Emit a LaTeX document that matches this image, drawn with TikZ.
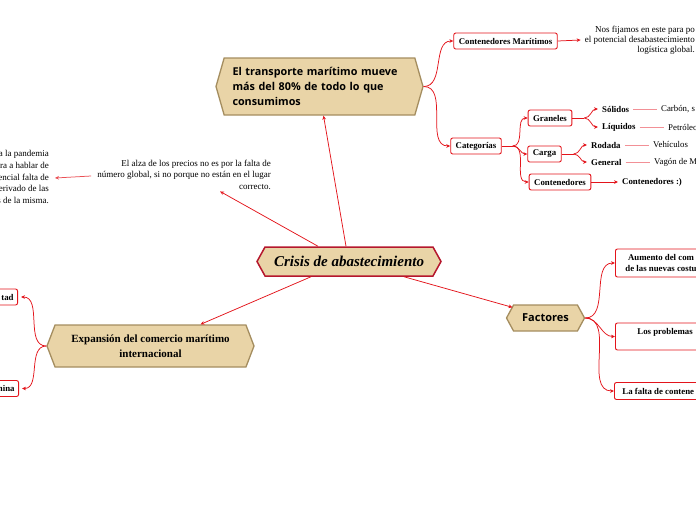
\documentclass[tikz,border=0pt]{standalone}
\usepackage{fontspec}
\setmainfont{Liberation Serif}
\newfontfamily\headsans{Open Sans}
\usetikzlibrary{shapes}
\usetikzlibrary{positioning}
\usetikzlibrary{arrows.meta}
\definecolor{tan}{HTML}{E9D4A7}
\definecolor{crimson}{HTML}{B5172D}
\definecolor{bronze}{HTML}{A48D5F}
\definecolor{linered}{HTML}{E3141B}
\definecolor{pinkred}{HTML}{F29096}
\tikzset{
    Hexa/.style = {signal, signal to=west and east, draw=bronze, fill=tan, line width=1.3pt, inner sep=0pt}
}
\tikzset{
    Box/.style = {draw=linered, rounded corners=2pt, fill=white, line width=0.9pt, font=\bfseries\fontsize{8.8}{10.5}\selectfont, inner xsep=5pt, inner ysep=0pt, minimum height=16pt}
}
\tikzset{
    Edge/.style = {draw=linered, line width=0.75pt, -{Stealth[length=4pt,width=3.6pt]}}
}

\begin{document}
\begin{tikzpicture}[
    x=1pt, y=-1pt,
    font=\fontsize{9}{10.5}\selectfont
]
\tikzset{
    leaf/.style = {font=\bfseries\fontsize{8.8}{10}\selectfont, inner xsep=4pt, inner ysep=1pt},
    note/.style = {font=\fontsize{8.8}{10}\selectfont, inner xsep=4pt, inner ysep=1pt},
    stem/.style = {draw=linered, line width=0.75pt},
    tie/.style = {draw=pinkred, line width=0.6pt},
}
\useasboundingbox (0,0) rectangle (696,520);
\clip (0,0) rectangle (696,520);

% main nodes
\node[Hexa, draw=crimson, line width=1.5pt, minimum width=184pt, minimum height=29pt, signal pointer angle=122, font=\bfseries\itshape\fontsize{15}{17}\selectfont] at (349,261.5) (crisis) {Crisis de abastecimiento};
\node[Hexa, minimum width=207pt, minimum height=57pt, signal pointer angle=148, text width=174pt, align=left, font=\headsans\bfseries\fontsize{10.8}{15}\selectfont] at (319.5,86.5) (transporte) {El transporte marítimo mueve\\más del 80\% de todo lo que\\consumimos};
\node[Hexa, minimum width=207pt, minimum height=42pt, signal pointer angle=138, align=center, font=\bfseries\fontsize{11}{15}\selectfont] at (150.5,346) (expansion) {Expansión del comercio marítimo\\internacional};
\node[Hexa, minimum width=78pt, minimum height=26pt, signal pointer angle=123, font=\headsans\bfseries\fontsize{11}{12}\selectfont] at (545.5,318) (factores) {Factores};

% notes
\node[anchor=east, align=right, inner sep=0pt, font=\fontsize{9}{11.5}\selectfont] at (271,174.5) (alza) {El alza de los precios no es por la falta de\\número global, si no porque no están en el lugar\\correcto.};
\node[anchor=east, align=right, inner sep=0pt, font=\fontsize{9}{11.6}\selectfont] at (49,177) (pandemia) {a la pandemia\\ra a hablar de\\encial falta de\\erivado de las\\s de la misma.};

\path ([xshift=-31pt]crisis.north) edge [Edge] ([xshift=36pt,yshift=-2pt]alza.south);
\path ([xshift=-3pt]crisis.north) edge [Edge] ([xshift=4pt]transporte.south);
\path ([xshift=-38pt]crisis.south) edge [Edge] ([xshift=50pt]expansion.north);
\path ([xshift=55pt]crisis.south) edge [Edge] ([xshift=-33pt,yshift=-3pt]factores.north);
\path ([xshift=-6pt,yshift=-1.5pt]alza.west) edge [Edge, draw=linered!75] ([xshift=6pt,yshift=-1pt]pandemia.east);

% transporte
\node[Box] at (505.5,41) (contmar) {Contenedores Marítimos};
\node[Box] at (476,146) (categorias) {Categorías};
\node[anchor=east, align=right, inner sep=0pt, font=\fontsize{9}{10.2}\selectfont] at (695,40) (fijamos) {Nos fijamos en este para po\\el potencial desabastecimiento\\logística global.};
\path (transporte.east) edge [Edge, out=0, in=180] (contmar.west);
\path (transporte.east) edge [Edge, out=0, in=180] (categorias.west);
\path (contmar.east) edge [Edge] ([xshift=-4pt]fijamos.west);

% categorias
\node[Box] at (550,118) (graneles) {Graneles};
\node[Box] at (544.5,154) (carga) {Carga};
\node[Box] at (560,182) (contenedores) {Contenedores};
\coordinate[right=11pt of categorias.east] (catfork);
\path (categorias.east) edge [stem] (catfork);
\path (catfork) edge [Edge, out=0, in=180] (graneles.west);
\path (catfork) edge [Edge, out=0, in=180] (carga.west);
\path (catfork) edge [Edge, out=0, in=180] (contenedores.west);

\node[leaf, anchor=west] at (598,109) (solidos) {Sólidos};
\node[leaf, anchor=west] at (598,127) (liquidos) {Líquidos};
\node[note, anchor=west] at (657,109) (carbon) {Carbón, s};
\node[note, anchor=west] at (664,127) (petroleo) {Petróleo};
\coordinate[right=12pt of graneles.east] (granfork);
\path (graneles.east) edge [stem] (granfork);
\path (granfork) edge [Edge, out=0, in=180] (solidos.west);
\path (granfork) edge [Edge, out=0, in=180] (liquidos.west);
\path (solidos.east) edge [tie] (carbon.west);
\path (liquidos.east) edge [tie] (petroleo.west);

\node[leaf, anchor=west] at (587,145) (rodada) {Rodada};
\node[leaf, anchor=west] at (587,162) (general) {General};
\node[note, anchor=west] at (649,145) (vehiculos) {Vehículos};
\node[note, anchor=west] at (650,162) (vagon) {Vagón de M};
\coordinate[right=12pt of carga.east] (cargafork);
\path (carga.east) edge [stem] (cargafork);
\path (cargafork) edge [Edge, out=0, in=180] (rodada.west);
\path (cargafork) edge [Edge, out=0, in=180] (general.west);
\path (rodada.east) edge [tie] (vehiculos.west);
\path (general.east) edge [tie] (vagon.west);

\node[leaf, anchor=west] at (618,182) (contsmile) {Contenedores :)};
\path (contenedores.east) edge [Edge] (contsmile.west);

% factores
\node[Box, anchor=west, align=center, inner xsep=10pt, minimum height=28pt] at (615,263) (aumento) {Aumento del com\\de las nuevas costu};
\node[Box, anchor=west, align=center, inner xsep=22pt, minimum height=27pt] at (615,336.5) (problemas) {Los problemas\\~};
\node[Box, anchor=west, inner xsep=8pt, minimum height=17pt] at (614,391) (falta) {La falta de contene};
\path (factores.east) edge [Edge, out=0, in=180] (aumento.west);
\path (factores.east) edge [Edge, out=0, in=180] (problemas.west);
\path (factores.east) edge [Edge, out=0, in=180] (falta.west);

% expansion
\node[Box, anchor=east, text width=30pt, align=right, inner xsep=4pt] at (18,297) (libertad) {tad};
\node[Box, anchor=east, text width=30pt, align=right, inner xsep=4pt] at (19,388.5) (china) {China};
\path (expansion.west) edge [Edge, out=180, in=0] ([xshift=3pt]libertad.east);
\path (expansion.west) edge [Edge, out=180, in=0] ([xshift=3pt]china.east);
\end{tikzpicture}
\end{document}
